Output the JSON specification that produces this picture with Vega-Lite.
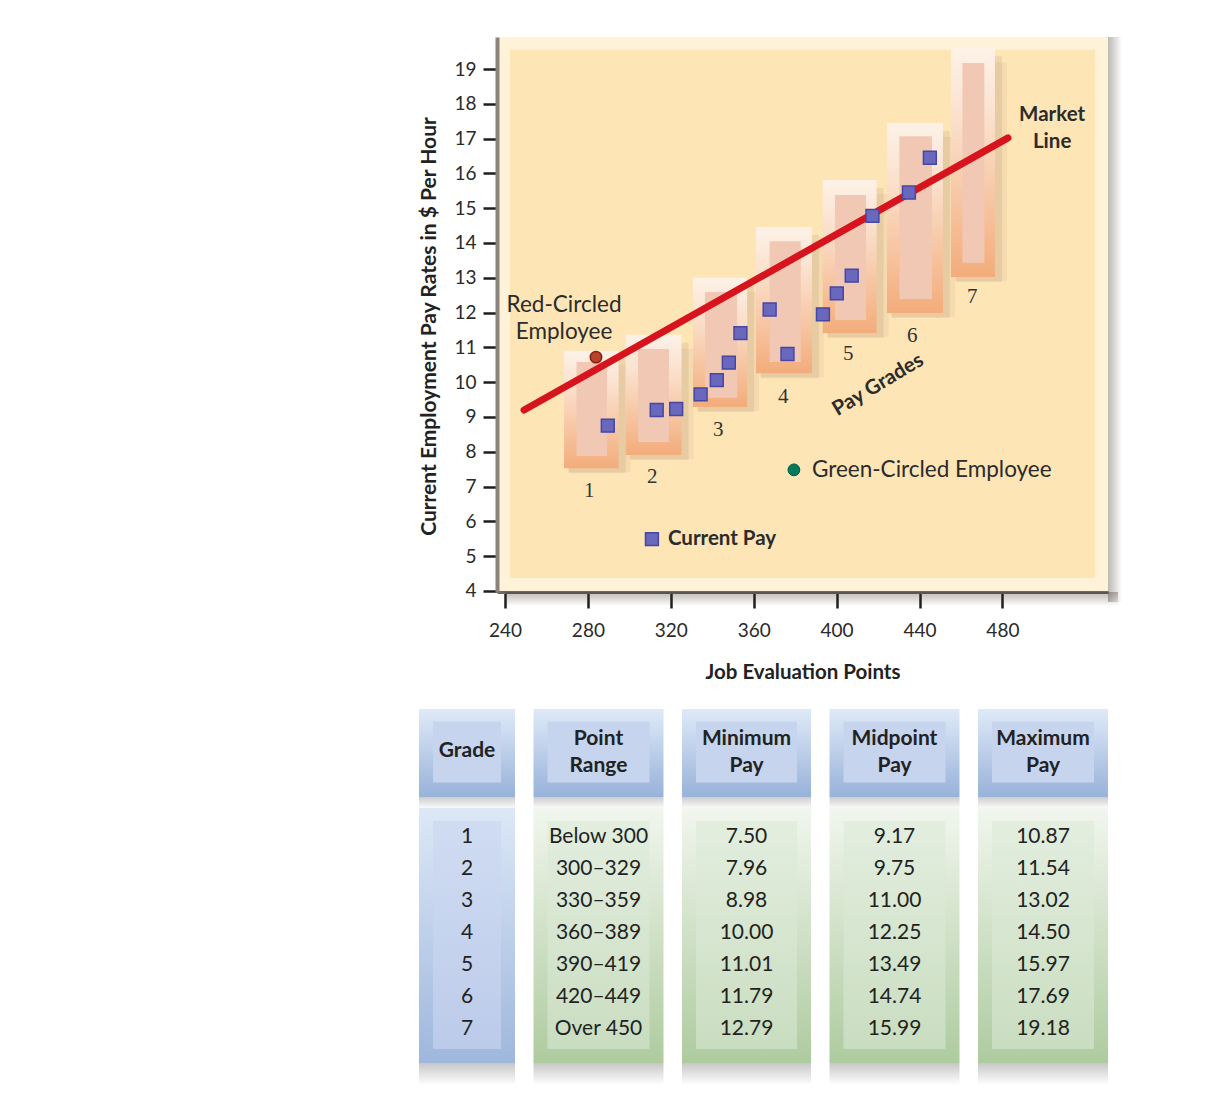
{
  "$schema": "https://vega.github.io/schema/vega-lite/v6.json",
  "padding": {"left": 418, "top": 37, "right": 0, "bottom": 0},
  "background": "#ffffff",
  "config": {"view": {"stroke": null}, "font": "Lato"},
  "datasets": {
    "frame": [{"region": "plot"}],
    "grades": [
      {"grade": 1, "pt_lo": 268.5, "pt_hi": 294.8, "pay_lo": 7.53, "pay_hi": 10.90, "ipt_lo": 274.5, "ipt_hi": 289.2, "ipay_lo": 7.88, "ipay_hi": 10.58, "label_pt": 280.6, "label_pay": 6.87},
      {"grade": 2, "pt_lo": 298.2, "pt_hi": 325.2, "pay_lo": 7.91, "pay_hi": 11.36, "ipt_lo": 304.2, "ipt_hi": 319.1, "ipay_lo": 8.28, "ipay_hi": 10.95, "label_pt": 311.0, "label_pay": 7.28},
      {"grade": 3, "pt_lo": 330.7, "pt_hi": 356.8, "pay_lo": 9.29, "pay_hi": 13.0, "ipt_lo": 336.5, "ipt_hi": 352.0, "ipay_lo": 9.55, "ipay_hi": 12.59, "label_pt": 342.9, "label_pay": 8.63},
      {"grade": 4, "pt_lo": 361.1, "pt_hi": 388.1, "pay_lo": 10.26, "pay_hi": 14.46, "ipt_lo": 367.7, "ipt_hi": 382.7, "ipay_lo": 10.58, "ipay_hi": 14.05, "label_pt": 374.2, "label_pay": 9.58},
      {"grade": 5, "pt_lo": 393.3, "pt_hi": 419.3, "pay_lo": 11.41, "pay_hi": 15.81, "ipt_lo": 399.2, "ipt_hi": 414.2, "ipay_lo": 11.79, "ipay_hi": 15.38, "label_pt": 405.6, "label_pay": 10.82},
      {"grade": 6, "pt_lo": 424.3, "pt_hi": 451.3, "pay_lo": 11.99, "pay_hi": 17.45, "ipt_lo": 430.3, "ipt_hi": 446.0, "ipay_lo": 12.39, "ipay_hi": 17.07, "label_pt": 436.5, "label_pay": 11.34},
      {"grade": 7, "pt_lo": 455.2, "pt_hi": 476.4, "pay_lo": 13.02, "pay_hi": 19.60, "ipt_lo": 460.7, "ipt_hi": 471.3, "ipay_lo": 13.43, "ipay_hi": 19.17, "label_pt": 465.4, "label_pay": 12.44}
    ],
    "pay": [
      {"points": 289.6, "pay": 8.75},
      {"points": 313.2, "pay": 9.20},
      {"points": 322.6, "pay": 9.23},
      {"points": 334.4, "pay": 9.65},
      {"points": 342.2, "pay": 10.06},
      {"points": 348.0, "pay": 10.56},
      {"points": 353.6, "pay": 11.41},
      {"points": 367.7, "pay": 12.09},
      {"points": 376.3, "pay": 10.81},
      {"points": 393.4, "pay": 11.95},
      {"points": 400.1, "pay": 12.55},
      {"points": 407.3, "pay": 13.06},
      {"points": 417.3, "pay": 14.78},
      {"points": 434.9, "pay": 15.45},
      {"points": 445.0, "pay": 16.45}
    ],
    "market": [
      {"points": 249.2, "pay": 9.20},
      {"points": 482.7, "pay": 17.02}
    ],
    "redCircled": [{"points": 283.9, "pay": 10.72}],
    "greenCircled": [{"points": 379.4, "pay": 7.48}],
    "key": [{"points": 310.9, "pay": 5.49}],
    "notes": [
      {"note": "Red-Circled", "points": 268.5, "pay": 12.22},
      {"note": "Employee", "points": 268.5, "pay": 11.44},
      {"note": "Market", "points": 504.0, "pay": 17.68},
      {"note": "Line", "points": 504.0, "pay": 16.90},
      {"note": "Green-Circled Employee", "points": 388.1, "pay": 7.48},
      {"note": "Current Pay", "points": 318.6, "pay": 5.49},
      {"note": "Pay Grades", "points": 420.0, "pay": 9.92}
    ],
    "headers": [
      {"col": "grade", "label": "Grade"},
      {"col": "range", "label": "Point\nRange"},
      {"col": "min", "label": "Minimum\nPay"},
      {"col": "mid", "label": "Midpoint\nPay"},
      {"col": "max", "label": "Maximum\nPay"}
    ],
    "table": [
      {"grade": 1, "range": "Below 300", "min": 7.50, "mid": 9.17, "max": 10.87},
      {"grade": 2, "range": "300–329", "min": 7.96, "mid": 9.75, "max": 11.54},
      {"grade": 3, "range": "330–359", "min": 8.98, "mid": 11.00, "max": 13.02},
      {"grade": 4, "range": "360–389", "min": 10.00, "mid": 12.25, "max": 14.50},
      {"grade": 5, "range": "390–419", "min": 11.01, "mid": 13.49, "max": 15.97},
      {"grade": 6, "range": "420–449", "min": 11.79, "mid": 14.74, "max": 17.69},
      {"grade": 7, "range": "Over 450", "min": 12.79, "mid": 15.99, "max": 19.18}
    ]
  },
  "spacing": 26,
  "center": true,
  "vconcat": [
    {
      "width": 611,
      "height": 555,
      "view": {"fill": "#fef2d8", "stroke": null},
      "layer": [
        {
          "data": {"name": "frame"},
          "mark": {"type": "rect", "fill": "#fde5b6"},
          "encoding": {
            "x": {"datum": 242.4, "type": "quantitative",
              "scale": {"domain": [236.14, 530.95], "nice": false, "zero": false},
              "axis": {"values": [240, 280, 320, 360, 400, 440, 480], "title": "Job Evaluation Points",
                "titleFont": "Lato", "titleFontSize": 20.5, "titleFontWeight": "bold", "titleColor": "#222222", "titlePadding": 22,
                "labelFont": "Lato", "labelFontSize": 19, "labelColor": "#2a2a2a", "labelPadding": 13, "labelFlush": false, "labelOverlap": false,
                "tickSize": 16, "tickWidth": 2.5, "tickColor": "#1e1e1e", "domainColor": "#6d6861", "domainWidth": 3, "grid": false}},
            "x2": {"datum": 524.7},
            "y": {"datum": 4.37, "type": "quantitative",
              "scale": {"domain": [3.97, 19.92], "nice": false, "zero": false},
              "axis": {"values": [4, 5, 6, 7, 8, 9, 10, 11, 12, 13, 14, 15, 16, 17, 18, 19], "tickCount": 16, "title": "Current Employment Pay Rates in $ Per Hour",
                "titleFont": "Lato", "titleFontSize": 21, "titleFontWeight": "bold", "titleColor": "#222222", "titlePadding": 14, "titleY": 289,
                "labelFont": "Lato", "labelFontSize": 19, "labelColor": "#2a2a2a", "labelPadding": 7, "labelFlush": false, "labelOverlap": false,
                "tickSize": 14, "tickWidth": 2.5, "tickColor": "#1e1e1e", "domainColor": "#8a847c", "domainWidth": 4, "grid": false}},
            "y2": {"datum": 19.55}
          }
        },
        {
          "data": {"name": "frame"},
          "mark": {"type": "rect", "x2Offset": 14, "yOffset": 10, "fill": {"gradient": "linear", "x1": 0, "y1": 0, "x2": 1, "y2": 0,
            "stops": [{"offset": 0, "color": "rgba(60,50,40,0.35)"}, {"offset": 1, "color": "rgba(60,50,40,0)"}]}},
          "encoding": {"x": {"datum": 530.95}, "x2": {"datum": 530.95}, "y": {"datum": 3.97}, "y2": {"datum": 19.92}}
        },
        {
          "data": {"name": "frame"},
          "mark": {"type": "rect", "y2Offset": 14, "xOffset": 8, "x2Offset": 10, "fill": {"gradient": "linear", "x1": 0, "y1": 0, "x2": 0, "y2": 1,
            "stops": [{"offset": 0, "color": "rgba(60,50,40,0.35)"}, {"offset": 1, "color": "rgba(60,50,40,0)"}]}},
          "encoding": {"x": {"datum": 236.14}, "x2": {"datum": 530.95}, "y": {"datum": 3.97}, "y2": {"datum": 3.97}}
        },
        {
          "data": {"name": "grades"},
          "mark": {"type": "rect", "fill": "#7a5a40", "opacity": 0.07, "xOffset": 4, "x2Offset": 12, "yOffset": 4, "y2Offset": 14},
          "encoding": {
            "x": {"field": "pt_lo", "type": "quantitative"},
            "x2": {"field": "pt_hi"},
            "y": {"field": "pay_lo", "type": "quantitative"},
            "y2": {"field": "pay_hi"}
          }
        },
        {
          "data": {"name": "grades"},
          "mark": {"type": "rect", "fill": "#7a5a40", "opacity": 0.1, "xOffset": 5, "x2Offset": 7, "yOffset": 5, "y2Offset": 8},
          "encoding": {
            "x": {"field": "pt_lo", "type": "quantitative"},
            "x2": {"field": "pt_hi"},
            "y": {"field": "pay_lo", "type": "quantitative"},
            "y2": {"field": "pay_hi"}
          }
        },
        {
          "data": {"name": "grades"},
          "mark": {"type": "rect", "fill": {"gradient": "linear", "x1": 0, "y1": 0, "x2": 0, "y2": 1,
            "stops": [{"offset": 0, "color": "#fdf2e8"}, {"offset": 0.3, "color": "#fbe1cd"}, {"offset": 1, "color": "#f3ac7b"}]}},
          "encoding": {
            "x": {"field": "pt_lo", "type": "quantitative"},
            "x2": {"field": "pt_hi"},
            "y": {"field": "pay_lo", "type": "quantitative"},
            "y2": {"field": "pay_hi"}
          }
        },
        {
          "data": {"name": "grades"},
          "mark": {"type": "rect", "fill": "#f1c8b3"},
          "encoding": {
            "x": {"field": "ipt_lo", "type": "quantitative"},
            "x2": {"field": "ipt_hi"},
            "y": {"field": "ipay_lo", "type": "quantitative"},
            "y2": {"field": "ipay_hi"}
          }
        },
        {
          "data": {"name": "grades"},
          "mark": {"type": "text", "font": "Liberation Serif", "fontSize": 21, "color": "#333333", "baseline": "middle", "align": "center"},
          "encoding": {
            "x": {"field": "label_pt", "type": "quantitative"},
            "y": {"field": "label_pay", "type": "quantitative"},
            "text": {"field": "grade", "type": "quantitative", "format": "d"}
          }
        },
        {
          "data": {"name": "market"},
          "mark": {"type": "line", "color": "#d7141d", "strokeWidth": 7, "strokeCap": "round"},
          "encoding": {
            "x": {"field": "points", "type": "quantitative"},
            "y": {"field": "pay", "type": "quantitative"}
          }
        },
        {
          "data": {"name": "pay"},
          "mark": {"type": "point", "shape": "square", "filled": true, "size": 165, "fill": "#6a68bd", "stroke": "#4646a5", "strokeWidth": 1.5, "opacity": 1},
          "encoding": {
            "x": {"field": "points", "type": "quantitative"},
            "y": {"field": "pay", "type": "quantitative",
              "axis": {"values": [4, 5, 6, 7, 8, 9, 10, 11, 12, 13, 14, 15, 16, 17, 18, 19], "tickCount": 16, "title": "Current Employment Pay Rates in $ Per Hour",
                "titleFont": "Lato", "titleFontSize": 21, "titleFontWeight": "bold", "titleColor": "#222222", "titlePadding": 14, "titleY": 289,
                "labelFont": "Lato", "labelFontSize": 19, "labelColor": "#2a2a2a", "labelPadding": 7, "labelFlush": false, "labelOverlap": false,
                "tickSize": 14, "tickWidth": 2.5, "tickColor": "#1e1e1e", "domainColor": "#8a847c", "domainWidth": 4, "grid": false}}
          }
        },
        {
          "data": {"name": "key"},
          "mark": {"type": "point", "shape": "square", "filled": true, "size": 165, "fill": "#6a68bd", "stroke": "#4646a5", "strokeWidth": 1.5, "opacity": 1},
          "encoding": {
            "x": {"field": "points", "type": "quantitative"},
            "y": {"field": "pay", "type": "quantitative"}
          }
        },
        {
          "data": {"name": "redCircled"},
          "mark": {"type": "point", "shape": "circle", "filled": true, "size": 130, "fill": "#b8432b", "stroke": "#8c1f10", "strokeWidth": 1.5, "opacity": 1},
          "encoding": {
            "x": {"field": "points", "type": "quantitative"},
            "y": {"field": "pay", "type": "quantitative"}
          }
        },
        {
          "data": {"name": "greenCircled"},
          "mark": {"type": "point", "shape": "circle", "filled": true, "size": 140, "fill": "#007a5e", "stroke": "#005a44", "strokeWidth": 1, "opacity": 1},
          "encoding": {
            "x": {"field": "points", "type": "quantitative"},
            "y": {"field": "pay", "type": "quantitative"}
          }
        },
        {
          "data": {"name": "notes"},
          "transform": [{"filter": {"field": "note", "oneOf": ["Red-Circled", "Employee"]}}],
          "mark": {"type": "text", "font": "Lato", "fontSize": 22.5, "color": "#2b2b2b", "align": "center", "baseline": "middle"},
          "encoding": {
            "x": {"field": "points", "type": "quantitative"},
            "y": {"field": "pay", "type": "quantitative"},
            "text": {"field": "note"}
          }
        },
        {
          "data": {"name": "notes"},
          "transform": [{"filter": {"field": "note", "oneOf": ["Market", "Line"]}}],
          "mark": {"type": "text", "font": "Lato", "fontSize": 20.5, "fontWeight": "bold", "color": "#2b2b2b", "align": "center", "baseline": "middle"},
          "encoding": {
            "x": {"field": "points", "type": "quantitative"},
            "y": {"field": "pay", "type": "quantitative"},
            "text": {"field": "note"}
          }
        },
        {
          "data": {"name": "notes"},
          "transform": [{"filter": {"field": "note", "equal": "Green-Circled Employee"}}],
          "mark": {"type": "text", "font": "Lato", "fontSize": 22.5, "color": "#2b2b2b", "align": "left", "baseline": "middle"},
          "encoding": {
            "x": {"field": "points", "type": "quantitative"},
            "y": {"field": "pay", "type": "quantitative"},
            "text": {"field": "note"}
          }
        },
        {
          "data": {"name": "notes"},
          "transform": [{"filter": {"field": "note", "equal": "Current Pay"}}],
          "mark": {"type": "text", "font": "Lato", "fontSize": 20.5, "fontWeight": "bold", "color": "#2b2b2b", "align": "left", "baseline": "middle"},
          "encoding": {
            "x": {"field": "points", "type": "quantitative"},
            "y": {"field": "pay", "type": "quantitative"},
            "text": {"field": "note"}
          }
        },
        {
          "data": {"name": "notes"},
          "transform": [{"filter": {"field": "note", "equal": "Pay Grades"}}],
          "mark": {"type": "text", "font": "Lato", "fontSize": 20.5, "fontWeight": "bold", "color": "#2b2b2b", "align": "center", "baseline": "middle", "angle": 329},
          "encoding": {
            "x": {"field": "points", "type": "quantitative"},
            "y": {"field": "pay", "type": "quantitative"},
            "text": {"field": "note"}
          }
        }
      ]
    },
    {
      "spacing": 18.5,
      "hconcat": [
        {
          "width": 96, "height": 354,
          "layer": [
            {"data": {"name": "headers"}, "transform": [{"filter": "datum.col === 'grade'"}],
             "mark": {"type": "rect", "y2Offset": 22, "fill": {"gradient": "linear", "x1": 0, "y1": 0, "x2": 0, "y2": 1, "stops": [{"offset": 0, "color": "rgba(0,0,0,0.22)"}, {"offset": 1, "color": "rgba(0,0,0,0)"}]}},
             "encoding": {"x": {"datum": 0, "type": "quantitative", "scale": {"domain": [0, 1], "nice": false, "zero": false}, "axis": null}, "x2": {"datum": 1},
               "y": {"datum": 8.0625, "type": "quantitative", "scale": {"domain": [-3, 8.0625], "reverse": true, "nice": false, "zero": false}, "axis": null}, "y2": {"datum": 8.0625}}},
            {"data": {"name": "headers"}, "transform": [{"filter": "datum.col === 'grade'"}],
             "mark": {"type": "rect", "fill": {"gradient": "linear", "x1": 0, "y1": 0, "x2": 0, "y2": 1, "stops": [{"offset": 0, "color": "rgba(0,0,0,0.2)"}, {"offset": 1, "color": "rgba(0,0,0,0.02)"}]}},
             "encoding": {"x": {"datum": 0}, "x2": {"datum": 1}, "y": {"datum": -0.25}, "y2": {"datum": 0.094}}},
            {"data": {"name": "headers"}, "transform": [{"filter": "datum.col === 'grade'"}],
             "mark": {"type": "rect", "fill": {"gradient": "linear", "x1": 0, "y1": 0, "x2": 0, "y2": 1, "stops": [{"offset": 0, "color": "#dfeaf7"}, {"offset": 1, "color": "#98b2da"}]}},
             "encoding": {"x": {"datum": 0}, "x2": {"datum": 1}, "y": {"datum": -3}, "y2": {"datum": -0.25}}},
            {"data": {"name": "headers"}, "transform": [{"filter": "datum.col === 'grade'"}],
             "mark": {"type": "rect", "fill": "#c6d4ee", "xOffset": 14, "x2Offset": -14},
             "encoding": {"x": {"datum": 0}, "x2": {"datum": 1}, "y": {"datum": -2.6}, "y2": {"datum": -0.7}}},
            {"data": {"name": "headers"}, "transform": [{"filter": "datum.col === 'grade'"}],
             "mark": {"type": "text", "font": "Lato", "fontSize": 21, "fontWeight": "bold", "color": "#222222", "align": "center", "baseline": "middle", "lineBreak": "\n", "lineHeight": 27},
             "encoding": {"x": {"datum": 0.5}, "y": {"datum": -1.7}, "text": {"field": "label"}}},
            {"data": {"name": "headers"}, "transform": [{"filter": "datum.col === 'grade'"}],
             "mark": {"type": "rect", "fill": {"gradient": "linear", "x1": 0, "y1": 0, "x2": 0, "y2": 1, "stops": [{"offset": 0, "color": "#dce8f6"}, {"offset": 1, "color": "#9fb7dd"}]}},
             "encoding": {"x": {"datum": 0}, "x2": {"datum": 1}, "y": {"datum": 0.094}, "y2": {"datum": 8.0625}}},
            {"data": {"name": "headers"}, "transform": [{"filter": "datum.col === 'grade'"}],
             "mark": {"type": "rect", "xOffset": 14, "x2Offset": -14, "fill": {"gradient": "linear", "x1": 0, "y1": 0, "x2": 0, "y2": 1, "stops": [{"offset": 0, "color": "#d0dcf2"}, {"offset": 1, "color": "#bccbea"}]}},
             "encoding": {"x": {"datum": 0}, "x2": {"datum": 1}, "y": {"datum": 0.5}, "y2": {"datum": 7.625}}},
            {"data": {"name": "table"},
             "mark": {"type": "text", "font": "Lato", "fontSize": 21, "color": "#222222", "align": "center", "baseline": "middle"},
             "encoding": {"x": {"datum": 0.5}, "y": {"field": "grade", "type": "quantitative"}, "text": {"field": "grade", "type": "quantitative", "format": "d"}}}
          ]
        },
        {
          "width": 130, "height": 354,
          "layer": [
            {"data": {"name": "headers"}, "transform": [{"filter": "datum.col === 'range'"}],
             "mark": {"type": "rect", "y2Offset": 22, "fill": {"gradient": "linear", "x1": 0, "y1": 0, "x2": 0, "y2": 1, "stops": [{"offset": 0, "color": "rgba(0,0,0,0.22)"}, {"offset": 1, "color": "rgba(0,0,0,0)"}]}},
             "encoding": {"x": {"datum": 0, "type": "quantitative", "scale": {"domain": [0, 1], "nice": false, "zero": false}, "axis": null}, "x2": {"datum": 1},
               "y": {"datum": 8.0625, "type": "quantitative", "scale": {"domain": [-3, 8.0625], "reverse": true, "nice": false, "zero": false}, "axis": null}, "y2": {"datum": 8.0625}}},
            {"data": {"name": "headers"}, "transform": [{"filter": "datum.col === 'range'"}],
             "mark": {"type": "rect", "fill": {"gradient": "linear", "x1": 0, "y1": 0, "x2": 0, "y2": 1, "stops": [{"offset": 0, "color": "rgba(0,0,0,0.2)"}, {"offset": 1, "color": "rgba(0,0,0,0.02)"}]}},
             "encoding": {"x": {"datum": 0}, "x2": {"datum": 1}, "y": {"datum": -0.25}, "y2": {"datum": 0.094}}},
            {"data": {"name": "headers"}, "transform": [{"filter": "datum.col === 'range'"}],
             "mark": {"type": "rect", "fill": {"gradient": "linear", "x1": 0, "y1": 0, "x2": 0, "y2": 1, "stops": [{"offset": 0, "color": "#dfeaf7"}, {"offset": 1, "color": "#98b2da"}]}},
             "encoding": {"x": {"datum": 0}, "x2": {"datum": 1}, "y": {"datum": -3}, "y2": {"datum": -0.25}}},
            {"data": {"name": "headers"}, "transform": [{"filter": "datum.col === 'range'"}],
             "mark": {"type": "rect", "fill": "#c6d4ee", "xOffset": 14, "x2Offset": -14},
             "encoding": {"x": {"datum": 0}, "x2": {"datum": 1}, "y": {"datum": -2.6}, "y2": {"datum": -0.7}}},
            {"data": {"name": "headers"}, "transform": [{"filter": "datum.col === 'range'"}],
             "mark": {"type": "text", "font": "Lato", "fontSize": 21, "fontWeight": "bold", "color": "#222222", "align": "center", "baseline": "middle", "lineBreak": "\n", "lineHeight": 27},
             "encoding": {"x": {"datum": 0.5}, "y": {"datum": -2.06}, "text": {"field": "label"}}},
            {"data": {"name": "headers"}, "transform": [{"filter": "datum.col === 'range'"}],
             "mark": {"type": "rect", "fill": {"gradient": "linear", "x1": 0, "y1": 0, "x2": 0, "y2": 1, "stops": [{"offset": 0, "color": "#f1f6ee"}, {"offset": 1, "color": "#aecb9f"}]}},
             "encoding": {"x": {"datum": 0}, "x2": {"datum": 1}, "y": {"datum": 0.094}, "y2": {"datum": 8.0625}}},
            {"data": {"name": "headers"}, "transform": [{"filter": "datum.col === 'range'"}],
             "mark": {"type": "rect", "xOffset": 14, "x2Offset": -14, "fill": {"gradient": "linear", "x1": 0, "y1": 0, "x2": 0, "y2": 1, "stops": [{"offset": 0, "color": "#e3eedf"}, {"offset": 1, "color": "#c9ddc0"}]}},
             "encoding": {"x": {"datum": 0}, "x2": {"datum": 1}, "y": {"datum": 0.5}, "y2": {"datum": 7.625}}},
            {"data": {"name": "table"},
             "mark": {"type": "text", "font": "Lato", "fontSize": 21, "color": "#222222", "align": "center", "baseline": "middle"},
             "encoding": {"x": {"datum": 0.5}, "y": {"field": "grade", "type": "quantitative"}, "text": {"field": "range", "type": "nominal"}}}
          ]
        },
        {
          "width": 129, "height": 354,
          "layer": [
            {"data": {"name": "headers"}, "transform": [{"filter": "datum.col === 'min'"}],
             "mark": {"type": "rect", "y2Offset": 22, "fill": {"gradient": "linear", "x1": 0, "y1": 0, "x2": 0, "y2": 1, "stops": [{"offset": 0, "color": "rgba(0,0,0,0.22)"}, {"offset": 1, "color": "rgba(0,0,0,0)"}]}},
             "encoding": {"x": {"datum": 0, "type": "quantitative", "scale": {"domain": [0, 1], "nice": false, "zero": false}, "axis": null}, "x2": {"datum": 1},
               "y": {"datum": 8.0625, "type": "quantitative", "scale": {"domain": [-3, 8.0625], "reverse": true, "nice": false, "zero": false}, "axis": null}, "y2": {"datum": 8.0625}}},
            {"data": {"name": "headers"}, "transform": [{"filter": "datum.col === 'min'"}],
             "mark": {"type": "rect", "fill": {"gradient": "linear", "x1": 0, "y1": 0, "x2": 0, "y2": 1, "stops": [{"offset": 0, "color": "rgba(0,0,0,0.2)"}, {"offset": 1, "color": "rgba(0,0,0,0.02)"}]}},
             "encoding": {"x": {"datum": 0}, "x2": {"datum": 1}, "y": {"datum": -0.25}, "y2": {"datum": 0.094}}},
            {"data": {"name": "headers"}, "transform": [{"filter": "datum.col === 'min'"}],
             "mark": {"type": "rect", "fill": {"gradient": "linear", "x1": 0, "y1": 0, "x2": 0, "y2": 1, "stops": [{"offset": 0, "color": "#dfeaf7"}, {"offset": 1, "color": "#98b2da"}]}},
             "encoding": {"x": {"datum": 0}, "x2": {"datum": 1}, "y": {"datum": -3}, "y2": {"datum": -0.25}}},
            {"data": {"name": "headers"}, "transform": [{"filter": "datum.col === 'min'"}],
             "mark": {"type": "rect", "fill": "#c6d4ee", "xOffset": 14, "x2Offset": -14},
             "encoding": {"x": {"datum": 0}, "x2": {"datum": 1}, "y": {"datum": -2.6}, "y2": {"datum": -0.7}}},
            {"data": {"name": "headers"}, "transform": [{"filter": "datum.col === 'min'"}],
             "mark": {"type": "text", "font": "Lato", "fontSize": 21, "fontWeight": "bold", "color": "#222222", "align": "center", "baseline": "middle", "lineBreak": "\n", "lineHeight": 27},
             "encoding": {"x": {"datum": 0.5}, "y": {"datum": -2.06}, "text": {"field": "label"}}},
            {"data": {"name": "headers"}, "transform": [{"filter": "datum.col === 'min'"}],
             "mark": {"type": "rect", "fill": {"gradient": "linear", "x1": 0, "y1": 0, "x2": 0, "y2": 1, "stops": [{"offset": 0, "color": "#f1f6ee"}, {"offset": 1, "color": "#aecb9f"}]}},
             "encoding": {"x": {"datum": 0}, "x2": {"datum": 1}, "y": {"datum": 0.094}, "y2": {"datum": 8.0625}}},
            {"data": {"name": "headers"}, "transform": [{"filter": "datum.col === 'min'"}],
             "mark": {"type": "rect", "xOffset": 14, "x2Offset": -14, "fill": {"gradient": "linear", "x1": 0, "y1": 0, "x2": 0, "y2": 1, "stops": [{"offset": 0, "color": "#e3eedf"}, {"offset": 1, "color": "#c9ddc0"}]}},
             "encoding": {"x": {"datum": 0}, "x2": {"datum": 1}, "y": {"datum": 0.5}, "y2": {"datum": 7.625}}},
            {"data": {"name": "table"},
             "mark": {"type": "text", "font": "Lato", "fontSize": 21, "color": "#222222", "align": "center", "baseline": "middle"},
             "encoding": {"x": {"datum": 0.5}, "y": {"field": "grade", "type": "quantitative"}, "text": {"field": "min", "type": "quantitative", "format": ".2f"}}}
          ]
        },
        {
          "width": 130, "height": 354,
          "layer": [
            {"data": {"name": "headers"}, "transform": [{"filter": "datum.col === 'mid'"}],
             "mark": {"type": "rect", "y2Offset": 22, "fill": {"gradient": "linear", "x1": 0, "y1": 0, "x2": 0, "y2": 1, "stops": [{"offset": 0, "color": "rgba(0,0,0,0.22)"}, {"offset": 1, "color": "rgba(0,0,0,0)"}]}},
             "encoding": {"x": {"datum": 0, "type": "quantitative", "scale": {"domain": [0, 1], "nice": false, "zero": false}, "axis": null}, "x2": {"datum": 1},
               "y": {"datum": 8.0625, "type": "quantitative", "scale": {"domain": [-3, 8.0625], "reverse": true, "nice": false, "zero": false}, "axis": null}, "y2": {"datum": 8.0625}}},
            {"data": {"name": "headers"}, "transform": [{"filter": "datum.col === 'mid'"}],
             "mark": {"type": "rect", "fill": {"gradient": "linear", "x1": 0, "y1": 0, "x2": 0, "y2": 1, "stops": [{"offset": 0, "color": "rgba(0,0,0,0.2)"}, {"offset": 1, "color": "rgba(0,0,0,0.02)"}]}},
             "encoding": {"x": {"datum": 0}, "x2": {"datum": 1}, "y": {"datum": -0.25}, "y2": {"datum": 0.094}}},
            {"data": {"name": "headers"}, "transform": [{"filter": "datum.col === 'mid'"}],
             "mark": {"type": "rect", "fill": {"gradient": "linear", "x1": 0, "y1": 0, "x2": 0, "y2": 1, "stops": [{"offset": 0, "color": "#dfeaf7"}, {"offset": 1, "color": "#98b2da"}]}},
             "encoding": {"x": {"datum": 0}, "x2": {"datum": 1}, "y": {"datum": -3}, "y2": {"datum": -0.25}}},
            {"data": {"name": "headers"}, "transform": [{"filter": "datum.col === 'mid'"}],
             "mark": {"type": "rect", "fill": "#c6d4ee", "xOffset": 14, "x2Offset": -14},
             "encoding": {"x": {"datum": 0}, "x2": {"datum": 1}, "y": {"datum": -2.6}, "y2": {"datum": -0.7}}},
            {"data": {"name": "headers"}, "transform": [{"filter": "datum.col === 'mid'"}],
             "mark": {"type": "text", "font": "Lato", "fontSize": 21, "fontWeight": "bold", "color": "#222222", "align": "center", "baseline": "middle", "lineBreak": "\n", "lineHeight": 27},
             "encoding": {"x": {"datum": 0.5}, "y": {"datum": -2.06}, "text": {"field": "label"}}},
            {"data": {"name": "headers"}, "transform": [{"filter": "datum.col === 'mid'"}],
             "mark": {"type": "rect", "fill": {"gradient": "linear", "x1": 0, "y1": 0, "x2": 0, "y2": 1, "stops": [{"offset": 0, "color": "#f1f6ee"}, {"offset": 1, "color": "#aecb9f"}]}},
             "encoding": {"x": {"datum": 0}, "x2": {"datum": 1}, "y": {"datum": 0.094}, "y2": {"datum": 8.0625}}},
            {"data": {"name": "headers"}, "transform": [{"filter": "datum.col === 'mid'"}],
             "mark": {"type": "rect", "xOffset": 14, "x2Offset": -14, "fill": {"gradient": "linear", "x1": 0, "y1": 0, "x2": 0, "y2": 1, "stops": [{"offset": 0, "color": "#e3eedf"}, {"offset": 1, "color": "#c9ddc0"}]}},
             "encoding": {"x": {"datum": 0}, "x2": {"datum": 1}, "y": {"datum": 0.5}, "y2": {"datum": 7.625}}},
            {"data": {"name": "table"},
             "mark": {"type": "text", "font": "Lato", "fontSize": 21, "color": "#222222", "align": "center", "baseline": "middle"},
             "encoding": {"x": {"datum": 0.5}, "y": {"field": "grade", "type": "quantitative"}, "text": {"field": "mid", "type": "quantitative", "format": ".2f"}}}
          ]
        },
        {
          "width": 130, "height": 354,
          "layer": [
            {"data": {"name": "headers"}, "transform": [{"filter": "datum.col === 'max'"}],
             "mark": {"type": "rect", "y2Offset": 22, "fill": {"gradient": "linear", "x1": 0, "y1": 0, "x2": 0, "y2": 1, "stops": [{"offset": 0, "color": "rgba(0,0,0,0.22)"}, {"offset": 1, "color": "rgba(0,0,0,0)"}]}},
             "encoding": {"x": {"datum": 0, "type": "quantitative", "scale": {"domain": [0, 1], "nice": false, "zero": false}, "axis": null}, "x2": {"datum": 1},
               "y": {"datum": 8.0625, "type": "quantitative", "scale": {"domain": [-3, 8.0625], "reverse": true, "nice": false, "zero": false}, "axis": null}, "y2": {"datum": 8.0625}}},
            {"data": {"name": "headers"}, "transform": [{"filter": "datum.col === 'max'"}],
             "mark": {"type": "rect", "fill": {"gradient": "linear", "x1": 0, "y1": 0, "x2": 0, "y2": 1, "stops": [{"offset": 0, "color": "rgba(0,0,0,0.2)"}, {"offset": 1, "color": "rgba(0,0,0,0.02)"}]}},
             "encoding": {"x": {"datum": 0}, "x2": {"datum": 1}, "y": {"datum": -0.25}, "y2": {"datum": 0.094}}},
            {"data": {"name": "headers"}, "transform": [{"filter": "datum.col === 'max'"}],
             "mark": {"type": "rect", "fill": {"gradient": "linear", "x1": 0, "y1": 0, "x2": 0, "y2": 1, "stops": [{"offset": 0, "color": "#dfeaf7"}, {"offset": 1, "color": "#98b2da"}]}},
             "encoding": {"x": {"datum": 0}, "x2": {"datum": 1}, "y": {"datum": -3}, "y2": {"datum": -0.25}}},
            {"data": {"name": "headers"}, "transform": [{"filter": "datum.col === 'max'"}],
             "mark": {"type": "rect", "fill": "#c6d4ee", "xOffset": 14, "x2Offset": -14},
             "encoding": {"x": {"datum": 0}, "x2": {"datum": 1}, "y": {"datum": -2.6}, "y2": {"datum": -0.7}}},
            {"data": {"name": "headers"}, "transform": [{"filter": "datum.col === 'max'"}],
             "mark": {"type": "text", "font": "Lato", "fontSize": 21, "fontWeight": "bold", "color": "#222222", "align": "center", "baseline": "middle", "lineBreak": "\n", "lineHeight": 27},
             "encoding": {"x": {"datum": 0.5}, "y": {"datum": -2.06}, "text": {"field": "label"}}},
            {"data": {"name": "headers"}, "transform": [{"filter": "datum.col === 'max'"}],
             "mark": {"type": "rect", "fill": {"gradient": "linear", "x1": 0, "y1": 0, "x2": 0, "y2": 1, "stops": [{"offset": 0, "color": "#f1f6ee"}, {"offset": 1, "color": "#aecb9f"}]}},
             "encoding": {"x": {"datum": 0}, "x2": {"datum": 1}, "y": {"datum": 0.094}, "y2": {"datum": 8.0625}}},
            {"data": {"name": "headers"}, "transform": [{"filter": "datum.col === 'max'"}],
             "mark": {"type": "rect", "xOffset": 14, "x2Offset": -14, "fill": {"gradient": "linear", "x1": 0, "y1": 0, "x2": 0, "y2": 1, "stops": [{"offset": 0, "color": "#e3eedf"}, {"offset": 1, "color": "#c9ddc0"}]}},
             "encoding": {"x": {"datum": 0}, "x2": {"datum": 1}, "y": {"datum": 0.5}, "y2": {"datum": 7.625}}},
            {"data": {"name": "table"},
             "mark": {"type": "text", "font": "Lato", "fontSize": 21, "color": "#222222", "align": "center", "baseline": "middle"},
             "encoding": {"x": {"datum": 0.5}, "y": {"field": "grade", "type": "quantitative"}, "text": {"field": "max", "type": "quantitative", "format": ".2f"}}}
          ]
        },
        {
          "width": 73.5, "height": 354,
          "data": {"name": "frame"},
          "mark": {"type": "rect", "opacity": 0},
          "encoding": {
            "x": {"datum": 0, "type": "quantitative", "scale": {"domain": [0, 1]}, "axis": null},
            "x2": {"datum": 0},
            "y": {"datum": 0, "type": "quantitative", "scale": {"domain": [0, 1]}, "axis": null},
            "y2": {"datum": 0}
          }
        }
      ]
    }
  ]
}
